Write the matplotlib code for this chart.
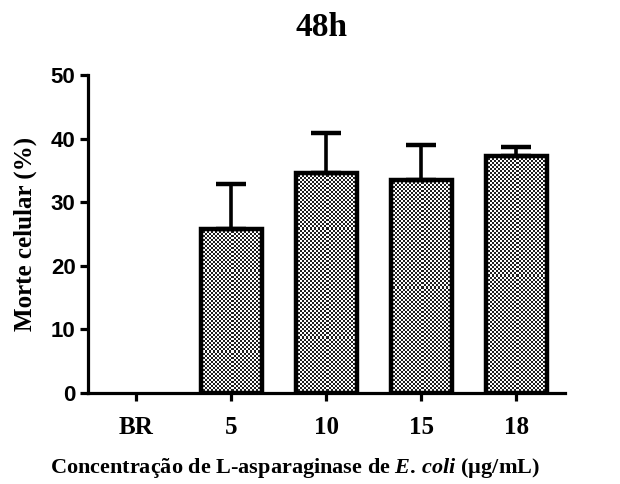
import numpy as np
import matplotlib
matplotlib.use("Agg")
import matplotlib.pyplot as plt

# cell death after 48 h, mean and upper SD
groups = ["BR", "5", "10", "15", "18"]
death_mean = [0.0, 25.8, 34.5, 33.4, 37.2]
death_sd = [0.0, 7.1, 6.4, 5.6, 1.4]

SERIF = "Liberation Serif"
SANS = "Liberation Sans"

plt.rcParams["mathtext.fontset"] = "custom"
plt.rcParams["mathtext.rm"] = "Liberation Serif:bold"
plt.rcParams["mathtext.bf"] = "Liberation Serif:bold"
plt.rcParams["mathtext.it"] = "Liberation Serif:italic:bold"


def checker_fill(ax, bar, cell=2.0):
    # fine black/white checkerboard, clipped to the bar outline
    x0, y0 = bar.get_x(), bar.get_y()
    w, h = bar.get_width(), bar.get_height()
    if h <= 0:
        return
    p0 = ax.transData.transform((x0, y0))
    p1 = ax.transData.transform((x0 + w, y0 + h))
    nx = max(int(abs(p1[0] - p0[0]) / cell), 1)
    ny = max(int(abs(p1[1] - p0[1]) / cell), 1)
    yy, xx = np.mgrid[0:ny, 0:nx]
    board = ((xx + yy) % 2).astype(float)
    im = ax.imshow(board, cmap="gray", vmin=-0.15, vmax=1.0,
                   extent=(x0, x0 + w, y0, y0 + h), aspect="auto",
                   interpolation="nearest", zorder=1.5)
    im.set_clip_path(bar)


fig = plt.figure(figsize=(6.2, 4.84), dpi=100)
ax = fig.add_axes([0.142, 0.189, 0.769, 0.656])

x = np.arange(len(groups))
bars = ax.bar(x, death_mean, width=0.64, color="white", edgecolor="black",
              linewidth=3.2, zorder=2)
ax.set_xlim(-0.51, 4.51)
ax.set_ylim(0, 50)

for b in bars:
    checker_fill(ax, b)
    b.set_facecolor("none")
    b.set_zorder(3)
    if b.get_height() <= 0:
        b.set_linewidth(0)

has_err = [m > 0 for m in death_mean]
ax.errorbar(x[has_err], np.array(death_mean)[has_err],
            yerr=[np.zeros(sum(has_err)), np.array(death_sd)[has_err]],
            fmt="none", ecolor="black", elinewidth=2.6, capsize=11,
            capthick=3.2, zorder=2.5)

for side in ("top", "right"):
    ax.spines[side].set_visible(False)
for side in ("left", "bottom"):
    ax.spines[side].set_linewidth(2.3)

ax.set_yticks([0, 10, 20, 30, 40, 50])
ax.set_xticks(x)
ax.set_xticklabels(groups, fontfamily=SERIF, fontweight="bold", fontsize=18)
for t in ax.get_yticklabels():
    t.set_fontfamily(SANS)
    t.set_fontweight("bold")
    t.set_fontsize(16)
ax.tick_params(axis="both", direction="out", length=6, width=2.3, pad=3)
ax.tick_params(axis="x", pad=11)

ax.set_ylabel("Morte celular (%)", fontfamily=SERIF, fontweight="bold",
              fontsize=18, labelpad=10)
fig.text(295 / 620, 1 - 468 / 484,
         r"Concentração de L-asparaginase de $\mathit{E.\,coli}$ (µg/mL)",
         ha="center", va="center", fontfamily=SERIF, fontweight="bold",
         fontsize=16)
fig.text(321 / 620, 1 - 27 / 484, "48h", ha="center", va="center",
         fontfamily=SERIF, fontweight="bold", fontsize=24)

fig.savefig("out.png", dpi=100)
